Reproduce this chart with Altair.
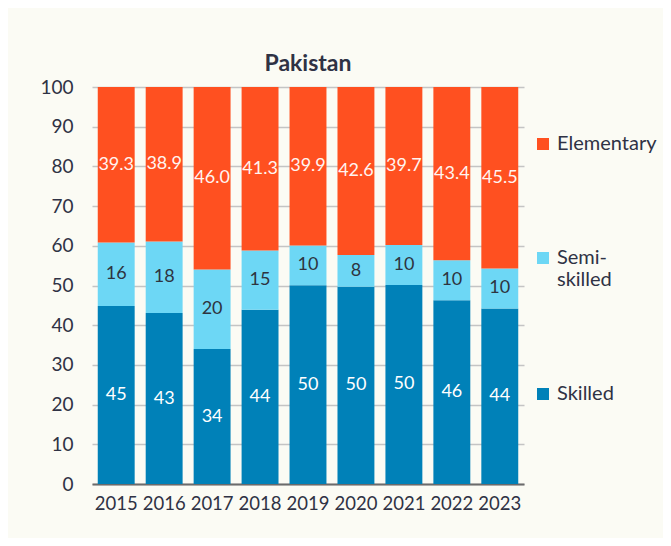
import altair as alt
import pandas as pd

years = ["2015", "2016", "2017", "2018", "2019", "2020", "2021", "2022", "2023"]
skilled = [45, 43, 34, 44, 50, 50, 50, 46, 44]
semi_skilled = [16, 18, 20, 15, 10, 8, 10, 10, 10]
elementary = [39.3, 38.9, 46.0, 41.3, 39.9, 42.6, 39.7, 43.4, 45.5]

legend_order = ["Elementary", "Semi-skilled", "Skilled"]
palette = ["#ff5020", "#6dd7f5", "#0081b8"]
label_colors = {"Skilled": "#ffffff", "Semi-skilled": "#2e3440", "Elementary": "#fff4f0"}
y_ticks = [0, 10, 20, 30, 40, 50, 60, 70, 80, 90, 100]

rows = []
for i, y in enumerate(years):
    for order, (cat, vals, fmt) in enumerate([
        ("Skilled", skilled, "{:.0f}"),
        ("Semi-skilled", semi_skilled, "{:.0f}"),
        ("Elementary", elementary, "{:.1f}"),
    ]):
        rows.append({
            "year": y, "cat": cat, "value": vals[i], "ord": order,
            "label": fmt.format(vals[i]), "tcolor": label_colors[cat],
        })
df = pd.DataFrame(rows)

FONT = "Lato"
TEXT = "#2f3244"

base = alt.Chart(df).transform_stack(
    stack="value", groupby=["year"], as_=["s0", "s1"],
    sort=[alt.SortField("ord", order="ascending")], offset="normalize",
).transform_calculate(
    y0="datum.s0*100", y1="datum.s1*100", mid="(datum.s0+datum.s1)*50"
)

xaxis = alt.Axis(labelAngle=0, ticks=False, labelPadding=10,
                 labelFontSize=18.5, labelColor=TEXT, labelFont=FONT,
                 domainColor="#6b6b6b", domainWidth=2)
yaxis = alt.Axis(values=y_ticks, tickCount=11, ticks=False, domain=False,
                 labelOverlap=False, labelPadding=19, labelFontSize=19,
                 labelColor=TEXT, labelFont=FONT,
                 gridColor="#c4c4c4", gridWidth=1.5)
xscale = alt.Scale(paddingInner=0.23, paddingOuter=0.12)
yscale = alt.Scale(domain=[0, 100], nice=False)

bars = base.mark_bar().encode(
    x=alt.X("year:N", title=None, scale=xscale, axis=xaxis),
    y=alt.Y("y0:Q", title=None, scale=yscale, axis=yaxis),
    y2="y1:Q",
    color=alt.Color("cat:N", title=None,
                    scale=alt.Scale(domain=legend_order, range=palette),
                    legend=alt.Legend(
                        orient="none", legendX=441, legendY=47,
                        symbolType="square", symbolSize=144, symbolStrokeWidth=0,
                        labelFontSize=20, labelFont=FONT, labelColor=TEXT,
                        labelOffset=4, rowPadding=94, padding=0,
                        labelBaseline="middle", labelLimit=200,
                        labelExpr="datum.label == 'Semi-skilled' ? ['Semi-', 'skilled'] : datum.label",
                    )),
)

texts = base.mark_text(fontSize=18, font=FONT, baseline="middle").encode(
    x=alt.X("year:N", title=None, scale=xscale, axis=xaxis),
    y=alt.Y("mid:Q", title=None, scale=yscale, axis=yaxis),
    text="label:N",
    color=alt.Color("tcolor:N", scale=None),
)

chart = alt.layer(bars, texts).properties(
    width=432, height=397,
    title=alt.TitleParams("Pakistan", fontSize=23, fontWeight="bold", font=FONT,
                          color=TEXT, offset=2, anchor="middle"),
    autosize=alt.AutoSizeParams(type="none"),
    padding={"left": 84, "top": 79, "right": 139, "bottom": 54},
    background="#fbfbf4",
).configure_view(stroke=None)

chart.save("out.html", embed_options={"renderer": "svg", "actions": False})
